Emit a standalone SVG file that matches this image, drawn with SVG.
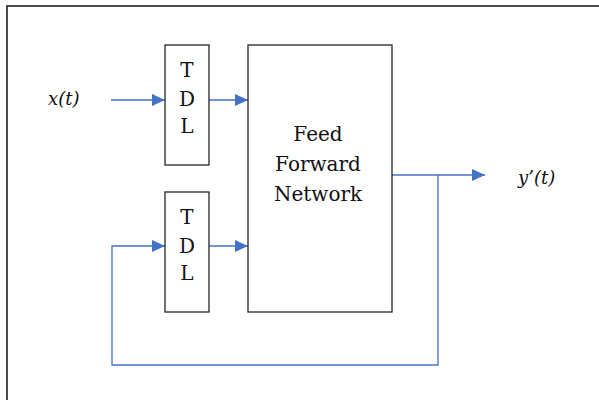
<svg xmlns="http://www.w3.org/2000/svg" width="599" height="400" viewBox="0 0 599 400">
  <style>
    .box { fill: #ffffff; stroke: #262626; stroke-width: 1.3; }
    .frame { fill: none; stroke: #111111; stroke-width: 1.5; }
    .wire { fill: none; stroke: #4472C4; stroke-width: 1.3; }
    text { font-family: 'DejaVu Serif', 'Liberation Serif', serif; fill: #111111; }
    .lbl { text-anchor: middle; }
    .tdl { font-size: 20px; }
    .ffn { font-size: 20px; }
    .sig { font-style: italic; font-size: 18px; }
  </style>
  <defs>
    <marker id="arrow" markerUnits="userSpaceOnUse" markerWidth="13" markerHeight="12" refX="13" refY="6" orient="auto">
      <path d="M0,0 L13,6 L0,12 z" fill="#4472C4"/>
    </marker>
  </defs>
  <rect x="0" y="0" width="599" height="400" fill="#ffffff"/>
  <path class="frame" d="M7,400 V6 H599"/>

  <g id="connectors">
    <path class="wire" d="M111,100 H165" marker-end="url(#arrow)"/>
    <path class="wire" d="M209,100 H248" marker-end="url(#arrow)"/>
    <path class="wire" d="M209,246 H248" marker-end="url(#arrow)"/>
    <path class="wire" d="M392,175 H485" marker-end="url(#arrow)"/>
    <path class="wire" d="M438,175 V365 H112 V246 H165" marker-end="url(#arrow)"/>
  </g>

  <g id="tdl1">
    <rect class="box" x="165" y="45" width="44" height="120"/>
    <text class="lbl tdl" x="187" y="77">T</text>
    <text class="lbl tdl" x="187" y="106">D</text>
    <text class="lbl tdl" x="187" y="133">L</text>
  </g>

  <g id="tdl2">
    <rect class="box" x="165" y="192" width="44" height="120"/>
    <text class="lbl tdl" x="187" y="224">T</text>
    <text class="lbl tdl" x="187" y="253">D</text>
    <text class="lbl tdl" x="187" y="280">L</text>
  </g>

  <g id="ffn">
    <rect class="box" x="248" y="45" width="144" height="267"/>
    <text class="lbl ffn" x="318" y="141">Feed</text>
    <text class="lbl ffn" x="318" y="171">Forward</text>
    <text class="lbl ffn" x="318" y="201">Network</text>
  </g>

  <g id="input-label">
    <text class="sig" x="48" y="105">x(t)</text>
  </g>
  <g id="output-label">
    <text class="sig" x="518" y="184">y’(t)</text>
  </g>
</svg>
